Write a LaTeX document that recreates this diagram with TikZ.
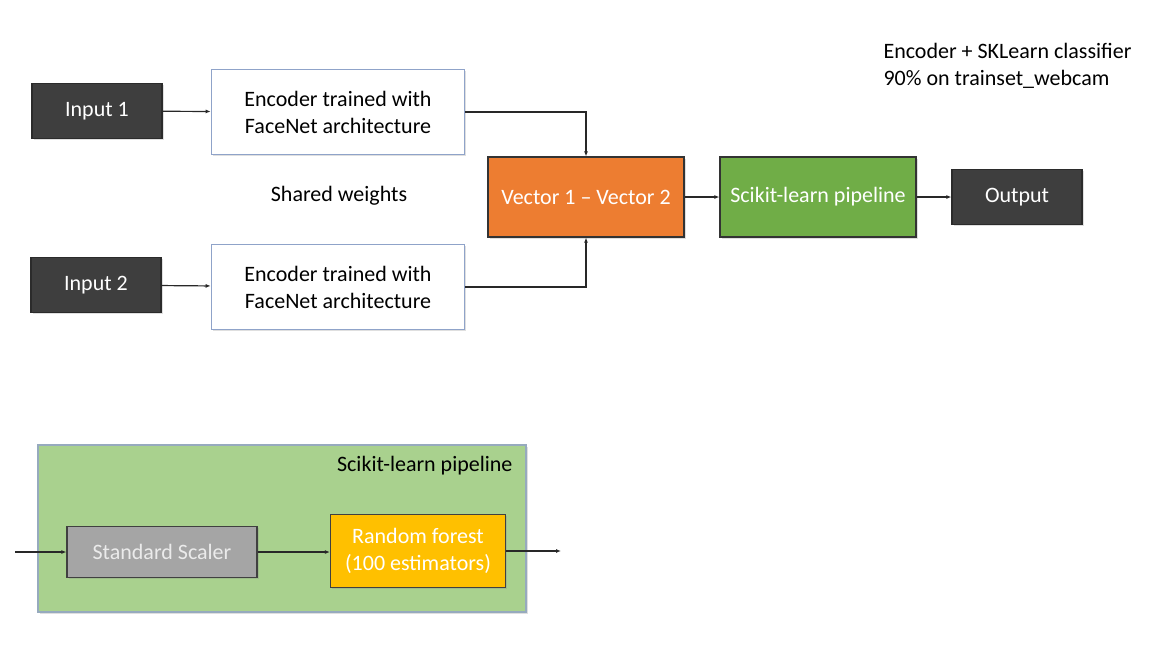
\documentclass[tikz,border=0pt]{standalone}
\usepackage{fontspec}
\setmainfont{Carlito}
\usetikzlibrary{arrows.meta,shadows}
\begin{document}
\begin{tikzpicture}[x=1pt,y=-1pt,font=\fontsize{22}{27}\selectfont]

\definecolor{dark_fill}{RGB}{62,62,62}
\definecolor{enc_draw}{RGB}{143,163,201}
\definecolor{vec_fill}{RGB}{237,125,49}
\definecolor{skl_fill}{RGB}{112,173,71}
\definecolor{pipe_fill}{RGB}{169,209,142}
\definecolor{pipe_draw}{RGB}{150,170,190}
\definecolor{scaler_fill}{RGB}{165,165,165}
\definecolor{forest_fill}{RGB}{255,192,0}
\definecolor{def_edge_draw}{RGB}{40,40,40}
\tikzstyle{box_style}=[rectangle,inner sep=0pt,align=center,line width=1.2pt,drop shadow={shadow xshift=1.5pt,shadow yshift=-1.5pt,opacity=0.25}]
\tikzstyle{dark_style}=[box_style,fill=dark_fill,draw=dark_fill!70!black,text=white,minimum width=130pt,minimum height=55pt]
\tikzstyle{enc_style}=[box_style,fill=white,draw=enc_draw,line width=1.6pt,text=black,minimum width=253pt,minimum height=85pt]
\tikzstyle{mid_style}=[box_style,draw=black!80,text=white,minimum width=196pt,minimum height=80pt]
\tikzstyle{default_edge_style}=[draw=def_edge_draw,line width=1.2pt,-{Latex[length=5pt,width=4pt]}]

\useasboundingbox (0,0) rectangle (1168,667);

\node(input1) at (97,111) [dark_style] {Input 1};
\node(input2) at (96,285) [dark_style] {Input 2};

\node(enc1) at (338,112) [enc_style] {Encoder trained with\\FaceNet architecture};
\node(enc2) at (338,287) [enc_style] {Encoder trained with\\FaceNet architecture};

\node(shared) at (339,196) {Shared weights};

\node(vector) at (586,197) [mid_style,fill=vec_fill] {Vector 1 -- Vector 2};
\node(sklearn) at (818,197) [mid_style,fill=skl_fill] {Scikit-learn pipeline};
\node(output) at (1017,197) [dark_style] {Output};

\node(score) at (880,66) [anchor=west,align=left] {Encoder + SKLearn classifier\\90\% on trainset\_webcam};

\draw[default_edge_style](input1) -- (enc1);
\draw[default_edge_style](input2) -- (enc2);
\draw[default_edge_style](enc1.east) -| (vector.north);
\draw[default_edge_style](enc2.east) -| (vector.south);
\draw[default_edge_style](vector) -- (sklearn);
\draw[default_edge_style](sklearn) -- (output);

% pipeline detail
\node(pipeline) at (282,528.5) [box_style,fill=pipe_fill,draw=pipe_draw,minimum width=488pt,minimum height=167pt] {};
\node(pipelabel) at (516,466) [anchor=east] {Scikit-learn pipeline};

\node(scaler) at (162,552) [box_style,fill=scaler_fill,draw=black!75,text=white!92!black,minimum width=190pt,minimum height=51pt] {Standard Scaler};
\node(forest) at (418,551) [box_style,fill=forest_fill,draw=black!75,text=white,minimum width=175pt,minimum height=73pt] {Random forest\\(100 estimators)};

\coordinate(pipein) at (15,552);
\coordinate(pipeout) at (561,551);

\draw[default_edge_style](pipein) -- (scaler);
\draw[default_edge_style](scaler) -- (forest.west |- scaler);
\draw[default_edge_style](forest) -- (pipeout);

\end{tikzpicture}
\end{document}
